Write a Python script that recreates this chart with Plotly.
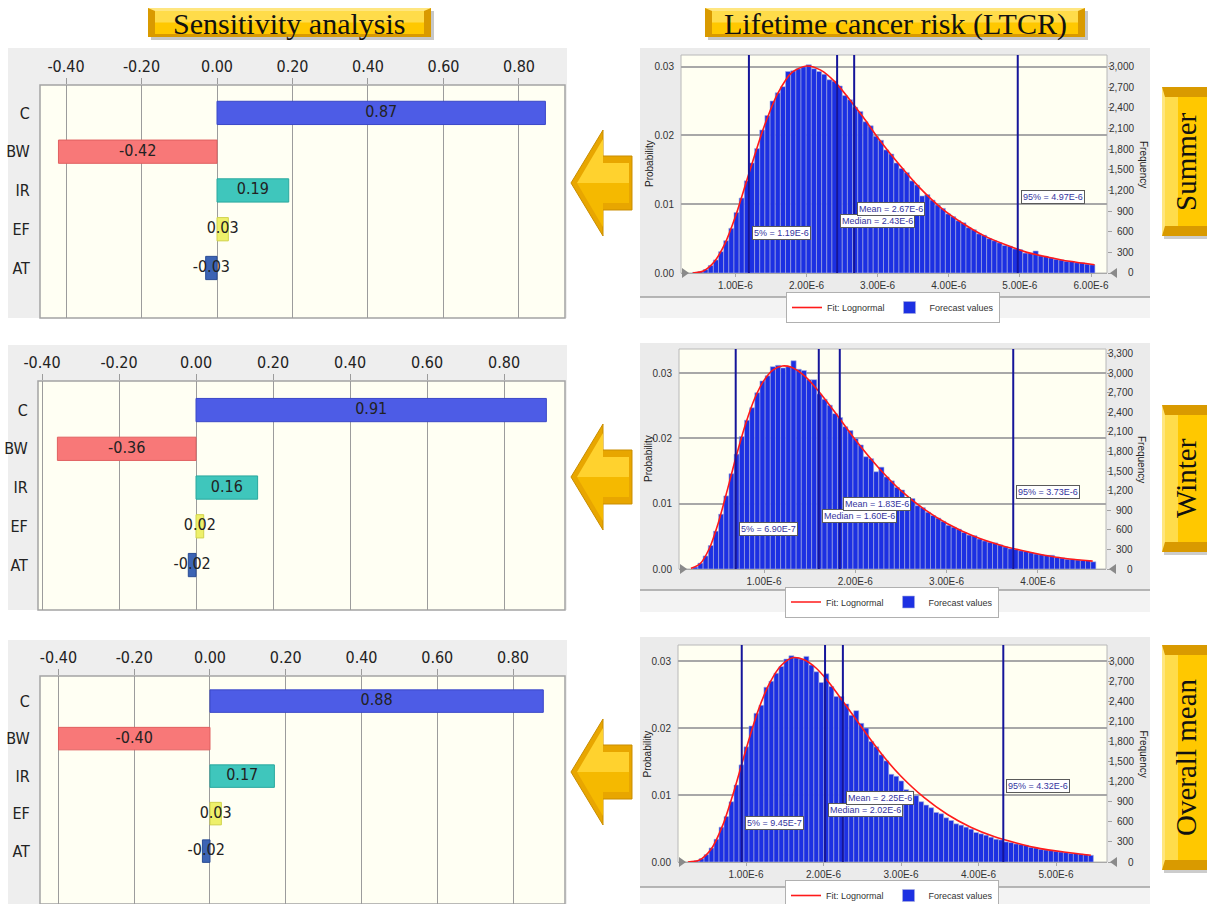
import plotly.graph_objects as go

W, H = 1207, 904


def X(px):
    return px / W


def Y(py):
    return 1 - py / H


# ------------------------------------------------------------------ data
factors = ["C", "BW", "IR", "EF", "AT"]
sens_summer = [0.87, -0.42, 0.19, 0.03, -0.03]
sens_winter = [0.91, -0.36, 0.16, 0.02, -0.02]
sens_overall = [0.88, -0.40, 0.17, 0.03, -0.02]
factor_fill = ["#4d5ce6", "#f87878", "#3fc6bc", "#eef06a", "#3c64b4"]
factor_edge = ["#3b48c8", "#e06060", "#2aa89e", "#d0d24c", "#2a4c94"]
sens_tickvals = [-0.40, -0.20, 0.00, 0.20, 0.40, 0.60, 0.80]
sens_ticktext = ["-0.40", "-0.20", "0.00", "0.20", "0.40", "0.60", "0.80"]

# histogram bins (x in units of 1E-6), probability per bin
summer_bin_start, summer_bin_width = 0.40, 0.0725
summer_prob = [
    0.0001, 0.0002, 0.0005, 0.0011, 0.0019, 0.0031, 0.0047, 0.0065, 0.0088, 0.0109,
    0.0134, 0.0160, 0.0181, 0.0208, 0.0229, 0.0250, 0.0262, 0.0271, 0.0293, 0.0294,
    0.0297, 0.0300, 0.0303, 0.0297, 0.0293, 0.0289, 0.0281, 0.0279, 0.0272, 0.0258,
    0.0252, 0.0241, 0.0235, 0.0220, 0.0214, 0.0199, 0.0193, 0.0179, 0.0173, 0.0160,
    0.0152, 0.0146, 0.0134, 0.0128, 0.0112, 0.0114, 0.0106, 0.0099, 0.0094, 0.0086,
    0.0082, 0.0076, 0.0073, 0.0066, 0.0063, 0.0057, 0.0055, 0.0050, 0.0047, 0.0044,
    0.0040, 0.0039, 0.0035, 0.0034, 0.0029, 0.0029, 0.0032, 0.0025, 0.0024, 0.0022,
    0.0020, 0.0019, 0.0017, 0.0017, 0.0015, 0.0015, 0.0013, 0.0012,
]
winter_bin_start, winter_bin_width = 0.22, 0.0566
winter_prob = [
    0.0003, 0.0009, 0.0020, 0.0036, 0.0058, 0.0084, 0.0112, 0.0146, 0.0176, 0.0203,
    0.0228, 0.0247, 0.0270, 0.0288, 0.0296, 0.0310, 0.0312, 0.0308, 0.0310, 0.0319,
    0.0306, 0.0304, 0.0290, 0.0290, 0.0268, 0.0260, 0.0251, 0.0238, 0.0232, 0.0218,
    0.0212, 0.0200, 0.0190, 0.0172, 0.0169, 0.0149, 0.0156, 0.0141, 0.0135, 0.0125,
    0.0121, 0.0109, 0.0108, 0.0097, 0.0094, 0.0087, 0.0082, 0.0078, 0.0073, 0.0067,
    0.0064, 0.0061, 0.0056, 0.0052, 0.0051, 0.0046, 0.0043, 0.0041, 0.0040, 0.0037,
    0.0034, 0.0031, 0.0030, 0.0028, 0.0027, 0.0025, 0.0023, 0.0022, 0.0021, 0.0021,
    0.0018, 0.0017, 0.0015, 0.0015, 0.0014, 0.0013, 0.0013, 0.0011,
]
overall_bin_start, overall_bin_width = 0.33, 0.0644
overall_prob = [
    0.0002, 0.0005, 0.0011, 0.0021, 0.0034, 0.0052, 0.0068, 0.0090, 0.0115, 0.0145,
    0.0172, 0.0203, 0.0222, 0.0234, 0.0261, 0.0270, 0.0282, 0.0292, 0.0303, 0.0308,
    0.0305, 0.0303, 0.0307, 0.0294, 0.0284, 0.0268, 0.0281, 0.0262, 0.0247, 0.0247,
    0.0236, 0.0219, 0.0226, 0.0207, 0.0200, 0.0180, 0.0172, 0.0160, 0.0151, 0.0131,
    0.0128, 0.0121, 0.0108, 0.0106, 0.0099, 0.0090, 0.0085, 0.0081, 0.0074, 0.0072,
    0.0066, 0.0062, 0.0057, 0.0055, 0.0052, 0.0049, 0.0044, 0.0042, 0.0040, 0.0037,
    0.0034, 0.0033, 0.0030, 0.0029, 0.0027, 0.0026, 0.0025, 0.0022, 0.0021, 0.0019,
    0.0018, 0.0017, 0.0016, 0.0015, 0.0014, 0.0013, 0.0013, 0.0012, 0.0011, 0.0010,
]

# lognormal fit curves
summer_fit_x = [0.40, 0.55, 0.70, 0.85, 1.00, 1.20, 1.40, 1.60, 1.80, 2.00, 2.20, 2.40, 2.60,
                2.80, 3.00, 3.30, 3.60, 3.90, 4.20, 4.50, 4.80, 5.10, 5.40, 5.70, 6.05]
summer_fit_y = [0.0000, 0.0003, 0.0016, 0.0042, 0.0082, 0.0148, 0.0212, 0.0262, 0.0292, 0.0301,
                0.0295, 0.0278, 0.0253, 0.0226, 0.0197, 0.0158, 0.0123, 0.0094, 0.0072, 0.0054,
                0.0041, 0.0030, 0.0023, 0.0017, 0.0012]
winter_fit_x = [0.20, 0.30, 0.40, 0.50, 0.60, 0.70, 0.80, 0.90, 1.00, 1.10, 1.20, 1.30, 1.45,
                1.60, 1.80, 2.00, 2.25, 2.50, 2.75, 3.00, 3.30, 3.60, 3.90, 4.20, 4.60]
winter_fit_y = [0.0001, 0.0008, 0.0031, 0.0071, 0.0122, 0.0175, 0.0223, 0.0262, 0.0289, 0.0305,
                0.0311, 0.0309, 0.0295, 0.0272, 0.0236, 0.0198, 0.0156, 0.0120, 0.0092, 0.0070,
                0.0050, 0.0036, 0.0026, 0.0018, 0.0012]
overall_fit_x = [0.25, 0.40, 0.55, 0.70, 0.85, 1.00, 1.15, 1.30, 1.45, 1.60, 1.75, 1.90, 2.05,
                 2.20, 2.40, 2.60, 2.80, 3.00, 3.30, 3.60, 3.90, 4.20, 4.50, 4.80, 5.10, 5.45]
overall_fit_y = [0.0000, 0.0003, 0.0019, 0.0055, 0.0108, 0.0168, 0.0224, 0.0266, 0.0293, 0.0305,
                 0.0302, 0.0290, 0.0271, 0.0248, 0.0216, 0.0184, 0.0154, 0.0128, 0.0096, 0.0071,
                 0.0052, 0.0038, 0.0028, 0.0020, 0.0015, 0.0010]

# percentile / statistic markers (x in units of 1E-6)
summer_stats = [1.19, 2.43, 2.67, 4.97]
summer_stats_text = ["5% = 1.19E-6", "Median = 2.43E-6", "Mean = 2.67E-6", "95% = 4.97E-6"]
winter_stats = [0.690, 1.60, 1.83, 3.73]
winter_stats_text = ["5% = 6.90E-7", "Median = 1.60E-6", "Mean = 1.83E-6", "95% = 3.73E-6"]
overall_stats = [0.945, 2.02, 2.25, 4.32]
overall_stats_text = ["5% = 9.45E-7", "Median = 2.02E-6", "Mean = 2.25E-6", "95% = 4.32E-6"]

hist_xtickvals = [1, 2, 3, 4, 5, 6]
hist_xticktext = ["1.00E-6", "2.00E-6", "3.00E-6", "4.00E-6", "5.00E-6", "6.00E-6"]
prob_tickvals = [0.00, 0.01, 0.02, 0.03]
prob_ticktext = ["0.00", "0.01", "0.02", "0.03"]
freq_tickvals = [0, 300, 600, 900, 1200, 1500, 1800, 2100, 2400, 2700, 3000, 3300]
freq_ticktext = ["0", "300", "600", "900", "1,200", "1,500", "1,800", "2,100", "2,400",
                 "2,700", "3,000", "3,300"]
TRIALS = 100000

season_titles = ["Summer", "Winter", "Overall mean"]

# ------------------------------------------------------------------ styling
NARROW = "Liberation Sans Narrow, DejaVu Sans Condensed, Arial Narrow, sans-serif"
SANS = "Liberation Sans, Arial, sans-serif"
SERIF = "Liberation Serif, DejaVu Serif, serif"
GOLD_DARK = "#d99a00"
GOLD = "#ffc800"
GOLD_LIGHT = "#ffdc4a"

fig = go.Figure()
shapes = []
annotations = []
layout_axes = {}


def rect(x0, y0, x1, y1, fill, line=None, lw=0, layer="below"):
    d = dict(type="rect", xref="paper", yref="paper", x0=X(x0), x1=X(x1), y0=Y(y1), y1=Y(y0),
             fillcolor=fill, layer=layer, line=dict(width=lw, color=line or fill))
    shapes.append(d)


def poly(pts, fill, line=None, lw=0, layer="above"):
    p = "M " + " L ".join(f"{X(a):.5f},{Y(b):.5f}" for a, b in pts) + " Z"
    shapes.append(dict(type="path", xref="paper", yref="paper", path=p, fillcolor=fill,
                       layer=layer, line=dict(width=lw, color=line or fill)))


def hline(x0, x1, y, color, lw):
    shapes.append(dict(type="line", xref="paper", yref="paper", x0=X(x0), x1=X(x1), y0=Y(y), y1=Y(y),
                       line=dict(color=color, width=lw), layer="below"))


def ptext(px, py, text, size, family=SANS, color="#111", angle=0, xanchor="center"):
    annotations.append(dict(xref="paper", yref="paper", x=X(px), y=Y(py), text=text, showarrow=False,
                            textangle=angle, xanchor=xanchor, yanchor="middle",
                            font=dict(family=family, size=size, color=color)))


# ------------------------------------------------------------------ tornado panels
tornado_panels = [
    dict(vals=sens_summer, ax="", xdom=(40, 565), ydom=(85, 318), xr=(-0.4689, 0.9219),
         yr=(5.29, -0.72), panel=(8, 48, 567, 318)),
    dict(vals=sens_winter, ax="2", xdom=(38, 565), ydom=(381, 610), xr=(-0.4104, 0.9584),
         yr=(5.16, -0.75), panel=(8, 345, 567, 610)),
    dict(vals=sens_overall, ax="3", xdom=(40, 565), ydom=(676, 904), xr=(-0.4488, 0.9373),
         yr=(5.41, -0.67), panel=(8, 640, 567, 904)),
]
idx = list(range(len(factors)))
for p in tornado_panels:
    ax = p["ax"]
    rect(*p["panel"], "#eeeeee")
    rect(p["xdom"][0], p["ydom"][0], p["xdom"][1], p["ydom"][1], "#fffff3", "#a4a4a4", 1.5)
    fig.add_trace(go.Bar(
        x=p["vals"], y=idx, orientation="h", width=0.6,
        marker=dict(color=factor_fill, line=dict(color=factor_edge, width=1)),
        xaxis="x" + ax, yaxis="y" + ax, showlegend=False, hoverinfo="x+y"))
    fig.add_trace(go.Scatter(
        x=[v / 2 for v in p["vals"]], y=idx, mode="text",
        text=[f"{v:.2f}" for v in p["vals"]],
        textfont=dict(family=NARROW, size=16, color="#222"),
        xaxis="x" + ax, yaxis="y" + ax, showlegend=False, hoverinfo="skip", cliponaxis=False))
    layout_axes["xaxis" + ax] = dict(
        domain=[X(p["xdom"][0]), X(p["xdom"][1])], range=list(p["xr"]), anchor="y" + ax,
        side="top", tickvals=sens_tickvals, ticktext=sens_ticktext, automargin=False,
        showgrid=True, gridcolor="#9c9c9c", gridwidth=1, zeroline=False,
        ticks="outside", ticklen=6, tickcolor="#9c9c9c", showline=False,
        tickfont=dict(family=NARROW, size=16, color="#222"), fixedrange=True)
    layout_axes["yaxis" + ax] = dict(
        domain=[Y(p["ydom"][1]), Y(p["ydom"][0])], range=list(p["yr"]), anchor="x" + ax,
        tickvals=idx, ticktext=factors, showgrid=False, zeroline=False, automargin=False,
        ticks="outside", ticklen=6, tickcolor="rgba(0,0,0,0)",
        tickfont=dict(family=NARROW, size=16, color="#222"), fixedrange=True)

# ------------------------------------------------------------------ histogram panels
hist_panels = [
    dict(start=summer_bin_start, width=summer_bin_width, prob=summer_prob,
         fx=summer_fit_x, fy=summer_fit_y, stats=summer_stats, stext=summer_stats_text,
         ax="4", rax="7", xdom=(681, 1107), ydom=(55, 273), xr=(0.235, 6.225), ytop=0.0317,
         panel=(640, 48, 1150, 318), sep=297, legend="legend", legpos=(893, 307.5),
         levels=[0.0058, 0.0076, 0.0093, 0.0111], nticks=6),
    dict(start=winter_bin_start, width=winter_bin_width, prob=winter_prob,
         fx=winter_fit_x, fy=winter_fit_y, stats=winter_stats, stext=winter_stats_text,
         ax="5", rax="8", xdom=(679, 1106), ydom=(349, 569), xr=(0.069, 4.746), ytop=0.0337,
         panel=(640, 343, 1150, 612), sep=590, legend="legend2", legpos=(892, 602),
         levels=[0.0062, 0.0081, 0.0099, 0.0118], nticks=4),
    dict(start=overall_bin_start, width=overall_bin_width, prob=overall_prob,
         fx=overall_fit_x, fy=overall_fit_y, stats=overall_stats, stext=overall_stats_text,
         ax="6", rax="9", xdom=(678, 1107), ydom=(645, 862), xr=(0.1226, 5.658), ytop=0.0324,
         panel=(640, 637, 1150, 904), sep=887, legend="legend3", legpos=(892, 895.5),
         levels=[0.0058, 0.0077, 0.0095, 0.0113], nticks=5),
]

legend_layouts = {}
for p in hist_panels:
    ax, rax = p["ax"], p["rax"]
    x0p, x1p = p["xdom"]
    y0p, y1p = p["ydom"]
    px0, py0, px1, py1 = p["panel"]
    rect(px0, py0, px1, py1, "#ebebeb")
    rect(px0, p["sep"], px1, py1, "#f3f3f3")
    hline(px0, px1, p["sep"], "#a0a0a0", 1.5)
    rect(x0p, y0p, x1p, y1p, "#fffff2", "#b8b8b8", 1)

    centers = [p["start"] + p["width"] * (i + 0.5) for i in range(len(p["prob"]))]
    fig.add_trace(go.Bar(
        x=centers, y=p["prob"], width=p["width"], name="Forecast values",
        marker=dict(color="#1c30e2", line=dict(color="#a9aedf", width=0.6)),
        xaxis="x" + ax, yaxis="y" + ax, legend=p["legend"], legendrank=2))
    fig.add_trace(go.Scatter(
        x=p["fx"], y=p["fy"], mode="lines", name="Fit: Lognormal",
        line=dict(color="#ff1a1a", width=1.6, shape="spline", smoothing=0.8),
        xaxis="x" + ax, yaxis="y" + ax, legend=p["legend"], legendrank=1))
    # frequency (right) axis companion
    fig.add_trace(go.Scatter(
        x=centers, y=[v * TRIALS for v in p["prob"]], mode="markers",
        marker=dict(opacity=0), xaxis="x" + ax, yaxis="y" + rax,
        showlegend=False, hoverinfo="skip"))

    for v, t, lev in zip(p["stats"], p["stext"], p["levels"]):
        shapes.append(dict(type="line", xref="x" + ax, yref="y" + ax + " domain",
                           x0=v, x1=v, y0=0, y1=1, line=dict(color="#15159a", width=2),
                           layer="above"))
        annotations.append(dict(xref="x" + ax, yref="y" + ax, x=v, y=lev, text=t,
                                showarrow=False, xanchor="left", yanchor="middle", xshift=3,
                                bgcolor="white", bordercolor="#5a5a5a", borderwidth=1,
                                borderpad=1, font=dict(family=SANS, size=9, color="#3434a0")))

    layout_axes["xaxis" + ax] = dict(
        domain=[X(x0p), X(x1p)], range=list(p["xr"]), anchor="y" + ax, automargin=False,
        tickvals=hist_xtickvals[:p["nticks"]], ticktext=hist_xticktext[:p["nticks"]],
        showgrid=False, zeroline=False, showline=True, linecolor="#a8a8a8", linewidth=1,
        ticks="outside", ticklen=3, tickcolor="#a8a8a8",
        tickfont=dict(family=SANS, size=10, color="#333"), fixedrange=True)
    layout_axes["yaxis" + ax] = dict(
        domain=[Y(y1p), Y(y0p)], range=[0, p["ytop"]], anchor="x" + ax, automargin=False,
        tickvals=prob_tickvals, ticktext=prob_ticktext,
        showgrid=True, gridcolor="#a8a8a8", gridwidth=1.5, zeroline=False,
        ticks="outside", ticklen=4, tickcolor="rgba(0,0,0,0)",
        tickfont=dict(family=SANS, size=10, color="#333"), fixedrange=True)
    ftop = p["ytop"] * TRIALS
    layout_axes["yaxis" + rax] = dict(
        overlaying="y" + ax, side="right", anchor="x" + ax, range=[0, ftop],
        tickvals=freq_tickvals, showticklabels=False, showgrid=False, zeroline=False,
        ticks="outside", ticklen=4, tickcolor="#a0a0a0", automargin=False, fixedrange=True)
    # right-aligned frequency labels
    for fv, ft in zip(freq_tickvals, freq_ticktext):
        if fv <= ftop:
            annotations.append(dict(xref="paper", yref="y" + rax, x=X(x1p + 29), y=fv, text=ft,
                                    showarrow=False, xanchor="right", yanchor="middle",
                                    font=dict(family=SANS, size=10, color="#333")))

    ycen = (y0p + y1p) / 2
    ptext(x0p - 31, ycen, "Probability", 10, angle=-90, color="#222")
    ptext(x1p + 36, ycen, "Frequency", 10, angle=90, color="#222")
    # slider handles at zero
    poly([(x0p + 1, y1p - 5), (x0p + 8, y1p), (x0p + 1, y1p + 5)], "#8a8a8a")
    poly([(x1p + 10, y1p - 5), (x1p + 3, y1p), (x1p + 10, y1p + 5)], "#8a8a8a")

    legend_layouts[p["legend"]] = dict(
        x=X(p["legpos"][0]), y=Y(p["legpos"][1]), xanchor="center", yanchor="middle",
        xref="paper", yref="paper",
        orientation="h", bgcolor="white", bordercolor="#b0b0b0", borderwidth=1,
        font=dict(family=SANS, size=9, color="#333"), itemwidth=30,
        tracegroupgap=0, itemclick=False, itemdoubleclick=False)


# ------------------------------------------------------------------ decorations
def gold_hbox(x0, y0, x1, y1, text):
    rect(x0 + 3, y0 + 3, x1 + 3, y1 + 3, "rgba(0,0,0,0.22)", layer="above")
    rect(x0, y0, x1, y1, GOLD_DARK, layer="above")
    b = 7
    poly([(x0, y0), (x0 + b, y0 + 3), (x1 - b, y0 + 3), (x1, y0)], "#ffe680")
    poly([(x0 + b, y0 + 3), (x1 - b, y0 + 3), (x1 - b, y1 - 3), (x0 + b, y1 - 3)], GOLD)
    poly([(x0 + b, y0 + 3), (x1 - b, y0 + 3), (x1 - b, (y0 + y1) / 2), (x0 + b, (y0 + y1) / 2)],
         GOLD_LIGHT)
    ptext((x0 + x1) / 2, (y0 + y1) / 2 + 1, text, 30, family=SERIF, color="#111")


def gold_vbox(x0, y0, x1, y1, text):
    rect(x0 + 2, y0 + 3, x1, y1 + 3, "rgba(0,0,0,0.2)", layer="above")
    rect(x0, y0, x1, y1, GOLD_DARK, layer="above")
    b = 10
    poly([(x0 + 3, y0 + b), (x1, y0 + b), (x1, y1 - b), (x0 + 3, y1 - b)], GOLD)
    poly([(x0, y0), (x0 + 3, y0 + b), (x0 + 3, y1 - b), (x0, y1)], "#ffe680")
    poly([(x0 + 3, y0 + b), (x0 + 16, y0 + b), (x0 + 16, y1 - b), (x0 + 3, y1 - b)], GOLD_LIGHT)
    ptext((x0 + x1) / 2 + 1, (y0 + y1) / 2, text, 29, family=SERIF, color="#111", angle=-90)


def gold_arrow(cy):
    tip, base, end = 571, 603, 632
    outline = [(tip, cy), (base, cy - 53), (base, cy - 27), (end, cy - 27), (end, cy + 27),
               (base, cy + 27), (base, cy + 53)]
    poly(outline, "#e8a600", "#c98d00", 1)
    poly([(tip + 6, cy), (base, cy - 44), (base, cy - 20), (end - 3, cy - 20), (end - 3, cy)],
         "#ffd22e")
    poly([(tip + 6, cy), (base, cy + 44), (base, cy + 20), (end - 3, cy + 20), (end - 3, cy)],
         "#f5b900")


gold_hbox(148, 8, 431, 37, "Sensitivity analysis")
gold_hbox(705, 8, 1085, 37, "Lifetime cancer risk (LTCR)")
for (y0, y1), title in zip([(87, 236), (405, 552), (645, 870)], season_titles):
    gold_vbox(1162, y0, 1207, y1, title)
for cy in [183, 477, 772]:
    gold_arrow(cy)

fig.update_layout(
    width=W, height=H, margin=dict(l=0, r=0, t=0, b=0, pad=0, autoexpand=False),
    paper_bgcolor="white", plot_bgcolor="rgba(0,0,0,0)",
    shapes=shapes, annotations=annotations, barmode="overlay",
    **layout_axes, **legend_layouts,
)
fig.write_html(
    "out.html",
    config={"displayModeBar": False},
    post_script="document.body.style.margin='0px';document.body.style.overflow='hidden';",
)
